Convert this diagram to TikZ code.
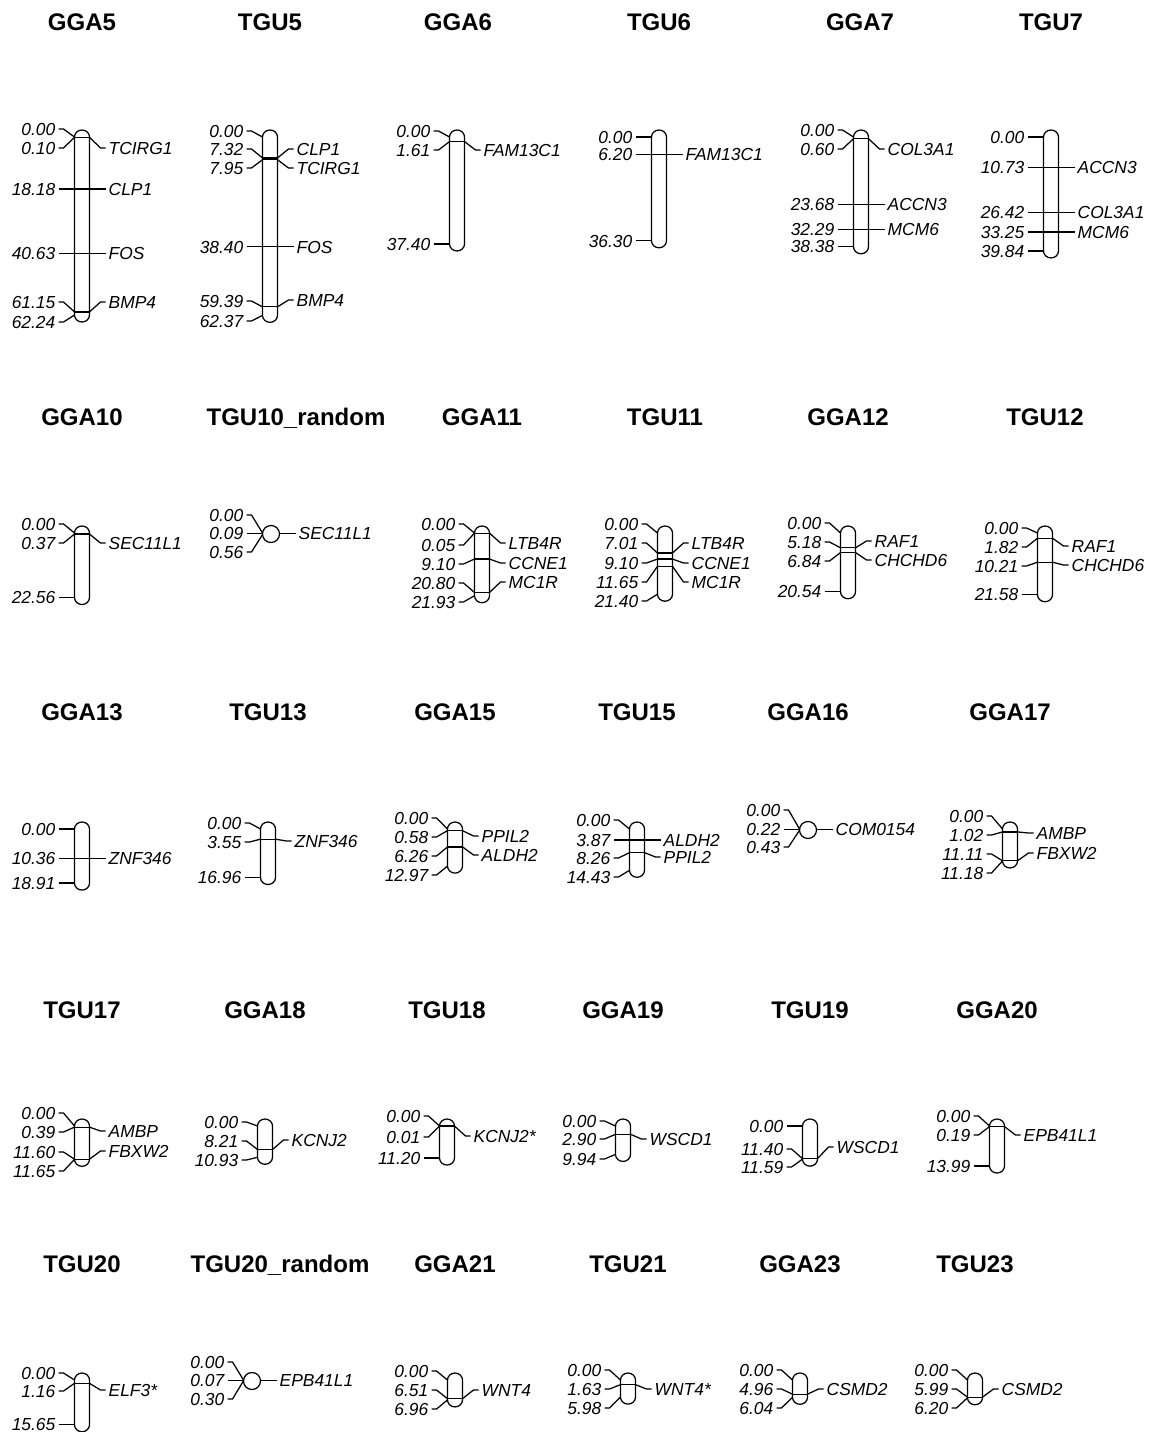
\documentclass[tikz,border=0pt]{standalone}
\usepackage{fontspec}
\setmainfont{Liberation Sans}
\newif\ifCtick
\newcounter{lblc}
\tikzset{
  chrom/.style={line width=1.25pt, line join=round},
  conn/.style={line width=1.25pt, line join=round},
  lbl/.style={font=\itshape\fontsize{17.4}{20}\selectfont, inner sep=0pt, text height=12.4pt, text depth=0pt},
  ttl/.style={font=\bfseries\fontsize{24}{28}\selectfont, inner sep=0pt, text height=17.2pt, text depth=0pt}
}
% #1 centre x, #2 y of position 0, #3 length (cM)
\newcommand{\Chrom}[3]{%
  \pgfmathsetmacro\CbL{#1-7.5}%
  \pgfmathsetmacro\CbR{#1+7.5}%
  \pgfmathsetmacro\CyZ{#2}%
  \pgfmathsetmacro\CyE{#2+2.86*#3}%
  \draw[chrom] (\CbL,\CyZ) -- (\CbL,\CyE)
    arc[start angle=180, end angle=360, x radius=7.5pt, y radius=7pt]
    -- (\CbR,\CyZ)
    arc[start angle=0, end angle=180, x radius=7.5pt, y radius=7pt] -- cycle;
}
% small (circular) chromosome: #1 centre x, #2 y of position 0, #3 length
\newcommand{\Dot}[3]{%
  \pgfmathsetmacro\CbL{#1-8.5}%
  \pgfmathsetmacro\CbR{#1+8.5}%
  \pgfmathsetmacro\CyZ{#2}%
  \draw[chrom] (#1,#2+1) circle[radius=8.5pt];
}
% left label: #1 position, #2 label y (empty = level), #3 text
\newcommand{\Lmk}[3]{%
  \pgfmathsetmacro\Cty{\CyZ+2.86*#1}%
  \ifx\relax#2\relax \let\Cly\Cty \else \def\Cly{#2}\fi
  \draw[conn] (\CbL-16,\Cly) -- (\CbL-11,\Cly) -- (\CbL,\Cty);
  \stepcounter{lblc}%
  \node[lbl, anchor=east] (lb\arabic{lblc}) at (\CbL-19,\Cly) {#3};
}
% right label: #1 position, #2 label y (empty = level), #3 gene
\newcommand{\Rmk}[3]{%
  \pgfmathsetmacro\Cty{\CyZ+2.86*#1}%
  \ifx\relax#2\relax \let\Cly\Cty \else \def\Cly{#2}\fi
  \ifCtick \draw[conn] (\CbL,\Cty) -- (\CbR,\Cty); \fi
  \draw[conn] (\CbR,\Cty) -- (\CbR+11,\Cly) -- (\CbR+16,\Cly);
  \stepcounter{lblc}%
  \node[lbl, anchor=west] (lb\arabic{lblc}) at (\CbR+19,\Cly) {#3};
}
\begin{document}
\begin{tikzpicture}[x=1pt,y=-1pt]
\useasboundingbox (0,0) rectangle (1150,1432);
\Cticktrue
% ---------------- Row 1 ----------------
\node[ttl] (tGGA5) at (82,22) {GGA5};
\node[ttl] (tTGU5) at (270,22) {TGU5};
\node[ttl] (tGGA6) at (458,22) {GGA6};
\node[ttl] (tTGU6) at (659,22) {TGU6};
\node[ttl] (tGGA7) at (860,22) {GGA7};
\node[ttl] (tTGU7) at (1051,22) {TGU7};

\Chrom{82}{137}{62.24}
\Lmk{0}{129}{0.00}\Lmk{0.10}{148}{0.10}\Lmk{18.18}{}{18.18}\Lmk{40.63}{}{40.63}\Lmk{61.15}{302}{61.15}\Lmk{62.24}{322}{62.24}
\Rmk{0.10}{148}{TCIRG1}\Rmk{18.18}{}{CLP1}\Rmk{40.63}{}{FOS}\Rmk{61.15}{302}{BMP4}

\Chrom{270}{137}{62.37}
\Lmk{0}{131}{0.00}\Lmk{7.32}{149}{7.32}\Lmk{7.95}{168}{7.95}\Lmk{38.40}{}{38.40}\Lmk{59.39}{301}{59.39}\Lmk{62.37}{321}{62.37}
\Rmk{7.32}{149}{CLP1}\Rmk{7.95}{168}{TCIRG1}\Rmk{38.40}{}{FOS}\Rmk{59.39}{300}{BMP4}

\Chrom{457}{137}{37.40}
\Lmk{0}{131}{0.00}\Lmk{1.61}{150}{1.61}\Lmk{37.40}{}{37.40}
\Rmk{1.61}{150}{FAM13C1}

\Chrom{659}{137}{36.30}
\Lmk{0}{}{0.00}\Lmk{6.20}{}{6.20}\Lmk{36.30}{}{36.30}
\Rmk{6.20}{}{FAM13C1}

\Chrom{861}{137}{38.38}
\Lmk{0}{130}{0.00}\Lmk{0.60}{149}{0.60}\Lmk{23.68}{}{23.68}\Lmk{32.29}{}{32.29}\Lmk{38.38}{}{38.38}
\Rmk{0.60}{149}{COL3A1}\Rmk{23.68}{}{ACCN3}\Rmk{32.29}{}{MCM6}

\Chrom{1051}{137}{39.84}
\Lmk{0}{}{0.00}\Lmk{10.73}{}{10.73}\Lmk{26.42}{}{26.42}\Lmk{33.25}{}{33.25}\Lmk{39.84}{}{39.84}
\Rmk{10.73}{}{ACCN3}\Rmk{26.42}{}{COL3A1}\Rmk{33.25}{}{MCM6}

% ---------------- Row 2 ----------------
\node[ttl] (tGGA10) at (82,417) {GGA10};
\node[ttl] (tTGU10r) at (296,417) {TGU10\_random};
\node[ttl] (tGGA11) at (482,417) {GGA11};
\node[ttl] (tTGU11) at (665,417) {TGU11};
\node[ttl] (tGGA12) at (848,417) {GGA12};
\node[ttl] (tTGU12) at (1045,417) {TGU12};

\Chrom{82}{533}{22.56}
\Lmk{0}{524}{0.00}\Lmk{0.37}{543}{0.37}\Lmk{22.56}{}{22.56}
\Rmk{0.37}{543}{SEC11L1}

\Ctickfalse
\Dot{271}{533}{0.56}
\Lmk{0}{515}{0.00}\Lmk{0.09}{}{0.09}\Lmk{0.56}{552}{0.56}
\Rmk{0.09}{}{SEC11L1}
\Cticktrue

\Chrom{482}{533}{21.93}
\Lmk{0}{524}{0.00}\Lmk{0.05}{545}{0.05}\Lmk{9.10}{564}{9.10}\Lmk{20.80}{583}{20.80}\Lmk{21.93}{602}{21.93}
\Rmk{0.05}{543}{LTB4R}\Rmk{9.10}{563}{CCNE1}\Rmk{20.80}{582}{MC1R}

\Chrom{665}{533}{21.40}
\Lmk{0}{524}{0.00}\Lmk{7.01}{543}{7.01}\Lmk{9.10}{563}{9.10}\Lmk{11.65}{582}{11.65}\Lmk{21.40}{601}{21.40}
\Rmk{7.01}{543}{LTB4R}\Rmk{9.10}{563}{CCNE1}\Rmk{11.65}{582}{MC1R}

\Chrom{848}{533}{20.54}
\Lmk{0}{523}{0.00}\Lmk{5.18}{542}{5.18}\Lmk{6.84}{561}{6.84}\Lmk{20.54}{}{20.54}
\Rmk{5.18}{541}{RAF1}\Rmk{6.84}{560}{CHCHD6}

\Chrom{1045}{533}{21.58}
\Lmk{0}{528}{0.00}\Lmk{1.82}{547}{1.82}\Lmk{10.21}{566}{10.21}\Lmk{21.58}{}{21.58}
\Rmk{1.82}{546}{RAF1}\Rmk{10.21}{565}{CHCHD6}

% ---------------- Row 3 ----------------
\node[ttl] (tGGA13) at (82,712) {GGA13};
\node[ttl] (tTGU13) at (268,712) {TGU13};
\node[ttl] (tGGA15) at (455,712) {GGA15};
\node[ttl] (tTGU15) at (637,712) {TGU15};
\node[ttl] (tGGA16) at (808,712) {GGA16};
\node[ttl] (tGGA17) at (1010,712) {GGA17};

\Chrom{82}{829}{18.91}
\Lmk{0}{}{0.00}\Lmk{10.36}{}{10.36}\Lmk{18.91}{}{18.91}
\Rmk{10.36}{}{ZNF346}

\Chrom{268}{829}{16.96}
\Lmk{0}{823}{0.00}\Lmk{3.55}{842}{3.55}\Lmk{16.96}{}{16.96}
\Rmk{3.55}{841}{ZNF346}

\Chrom{455}{829}{12.97}
\Lmk{0}{818}{0.00}\Lmk{0.58}{837}{0.58}\Lmk{6.26}{856}{6.26}\Lmk{12.97}{875}{12.97}
\Rmk{0.58}{836}{PPIL2}\Rmk{6.26}{855}{ALDH2}

\Chrom{637}{829}{14.43}
\Lmk{0}{820}{0.00}\Lmk{3.87}{}{3.87}\Lmk{8.26}{858}{8.26}\Lmk{14.43}{877}{14.43}
\Rmk{3.87}{}{ALDH2}\Rmk{8.26}{857}{PPIL2}

\Ctickfalse
\Dot{808}{829}{0.43}
\Lmk{0}{810}{0.00}\Lmk{0.22}{}{0.22}\Lmk{0.43}{847}{0.43}
\Rmk{0.22}{}{COM0154}
\Cticktrue

\Chrom{1010}{829}{11.18}
\Lmk{0}{816}{0.00}\Lmk{1.02}{835}{1.02}\Lmk{11.11}{854}{11.11}\Lmk{11.18}{873}{11.18}
\Rmk{1.02}{833}{AMBP}\Rmk{11.11}{853}{FBXW2}

% ---------------- Row 4 ----------------
\node[ttl] (tTGU17) at (82,1010) {TGU17};
\node[ttl] (tGGA18) at (265,1010) {GGA18};
\node[ttl] (tTGU18) at (447,1010) {TGU18};
\node[ttl] (tGGA19) at (623,1010) {GGA19};
\node[ttl] (tTGU19) at (810,1010) {TGU19};
\node[ttl] (tGGA20) at (997,1010) {GGA20};

\Chrom{82}{1126}{11.65}
\Lmk{0}{1113}{0.00}\Lmk{0.39}{1132}{0.39}\Lmk{11.60}{1152}{11.60}\Lmk{11.65}{1171}{11.65}
\Rmk{0.39}{1131}{AMBP}\Rmk{11.60}{1151}{FBXW2}

\Chrom{265}{1126}{10.93}
\Lmk{0}{1122}{0.00}\Lmk{8.21}{1141}{8.21}\Lmk{10.93}{1160}{10.93}
\Rmk{8.21}{1140}{KCNJ2}

\Chrom{447}{1126}{11.20}
\Lmk{0}{1116}{0.00}\Lmk{0.01}{1137}{0.01}\Lmk{11.20}{}{11.20}
\Rmk{0.01}{1136}{KCNJ2*}

\Chrom{623}{1126}{9.94}
\Lmk{0}{1121}{0.00}\Lmk{2.90}{1139}{2.90}\Lmk{9.94}{1159}{9.94}
\Rmk{2.90}{1139}{WSCD1}

\Chrom{810}{1126}{11.59}
\Lmk{0}{}{0.00}\Lmk{11.40}{1149}{11.40}\Lmk{11.59}{1167}{11.59}
\Rmk{11.40}{1147}{WSCD1}

\Chrom{997}{1126}{13.99}
\Lmk{0}{1116}{0.00}\Lmk{0.19}{1135}{0.19}\Lmk{13.99}{}{13.99}
\Rmk{0.19}{1135}{EPB41L1}

% ---------------- Row 5 ----------------
\node[ttl] (tTGU20) at (82,1264) {TGU20};
\node[ttl] (tTGU20r) at (280,1264) {TGU20\_random};
\node[ttl] (tGGA21) at (455,1264) {GGA21};
\node[ttl] (tTGU21) at (628,1264) {TGU21};
\node[ttl] (tGGA23) at (800,1264) {GGA23};
\node[ttl] (tTGU23) at (975,1264) {TGU23};

\Chrom{82}{1380}{15.65}
\Lmk{0}{1373}{0.00}\Lmk{1.16}{1391}{1.16}\Lmk{15.65}{}{15.65}
\Rmk{1.16}{1390}{ELF3*}

\Ctickfalse
\Dot{252}{1380}{0.30}
\Lmk{0}{1362}{0.00}\Lmk{0.07}{}{0.07}\Lmk{0.30}{1399}{0.30}
\Rmk{0.07}{}{EPB41L1}
\Cticktrue

\Chrom{455}{1380}{6.96}
\Lmk{0}{1371}{0.00}\Lmk{6.51}{1390}{6.51}\Lmk{6.96}{1409}{6.96}
\Rmk{6.51}{1390}{WNT4}

\Chrom{628}{1380}{5.98}
\Lmk{0}{1370}{0.00}\Lmk{1.63}{1389}{1.63}\Lmk{5.98}{1408}{5.98}
\Rmk{1.63}{1389}{WNT4*}

\Chrom{800}{1380}{6.04}
\Lmk{0}{1370}{0.00}\Lmk{4.96}{1389}{4.96}\Lmk{6.04}{1408}{6.04}
\Rmk{4.96}{1389}{CSMD2}

\Chrom{975}{1380}{6.20}
\Lmk{0}{1370}{0.00}\Lmk{5.99}{1389}{5.99}\Lmk{6.20}{1408}{6.20}
\Rmk{5.99}{1389}{CSMD2}
\end{tikzpicture}
\end{document}
